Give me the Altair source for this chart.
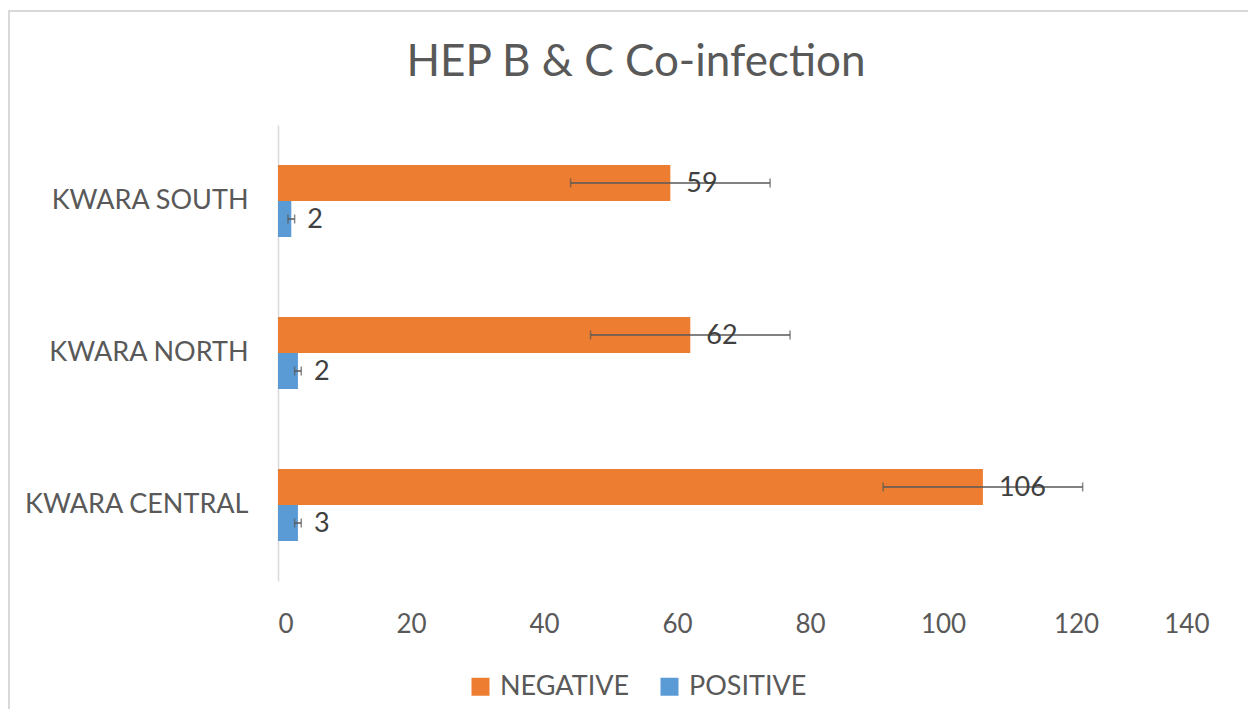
import altair as alt
import pandas as pd

title_text = "HEP B & C Co-infection"
regions = ["KWARA SOUTH", "KWARA NORTH", "KWARA CENTRAL"]
negative = [59, 62, 106]
positive = [2, 3, 3]
negative_labels = ["59", "62", "106"]
positive_labels = ["2", "2", "3"]
negative_err = [15, 15, 15]
positive_err = [0.5, 0.5, 0.5]
series = ["NEGATIVE", "POSITIVE"]
colors = ["#ED7D31", "#5B9BD5"]

rows = []
for i, r in enumerate(regions):
    rows.append(dict(region=r, series="NEGATIVE", value=negative[i],
                     label=negative_labels[i], lo=negative[i] - negative_err[i],
                     hi=negative[i] + negative_err[i]))
    rows.append(dict(region=r, series="POSITIVE", value=positive[i],
                     label=positive_labels[i], lo=positive[i] - positive_err[i],
                     hi=positive[i] + positive_err[i]))
df = pd.DataFrame(rows)

FONT = "Lato"
GREY = "#595959"

y_enc = alt.Y("region:N", sort=regions, title=None,
              scale=alt.Scale(paddingInner=0.526, paddingOuter=0.263),
              axis=alt.Axis(labelFontSize=27, labelColor=GREY, labelFont=FONT,
                            labelPadding=30, labelLimit=400, ticks=False,
                            domainColor="#d9d9d9", domainWidth=1.5,
                            labelFontWeight="normal"))
yoff = alt.YOffset("series:N", sort=series)
x_scale = alt.Scale(domain=[0, 140], nice=False)

base = alt.Chart(df)

bars = base.mark_bar().encode(
    x=alt.X("value:Q", scale=x_scale, title=None,
            axis=alt.Axis(values=[0, 20, 40, 60, 80, 100, 120, 140], grid=False,
                          domain=False, ticks=False, labelFontSize=26,
                          labelColor=GREY, labelFont=FONT, labelPadding=30)),
    y=y_enc,
    yOffset=yoff,
    color=alt.Color("series:N", sort=series,
                    scale=alt.Scale(domain=series, range=colors),
                    legend=alt.Legend(title=None, orient="none", direction="horizontal",
                                      legendX=189, legendY=548, symbolType="square",
                                      symbolSize=324, symbolStrokeWidth=0,
                                      labelFontSize=27, labelFont=FONT,
                                      labelColor=GREY, columnPadding=26,
                                      labelOffset=6)),
)

err = base.mark_rule(color=GREY, strokeWidth=1.5).encode(
    x=alt.X("lo:Q", scale=x_scale), x2="hi:Q", y=y_enc, yOffset=yoff)
cap_lo = base.mark_tick(color=GREY, thickness=1.5, size=9).encode(
    x=alt.X("lo:Q", scale=x_scale), y=y_enc, yOffset=yoff)
cap_hi = base.mark_tick(color=GREY, thickness=1.5, size=9).encode(
    x=alt.X("hi:Q", scale=x_scale), y=y_enc, yOffset=yoff)

labels = base.mark_text(align="left", baseline="middle", dx=16, dy=1,
                        fontSize=27, font=FONT, color="#404040").encode(
    x=alt.X("value:Q", scale=x_scale), y=y_enc, yOffset=yoff, text="label:N")

title = alt.Chart(pd.DataFrame({"t": [title_text]})).mark_text(
    fontSize=44, font=FONT, color=GREY, align="center", baseline="middle").encode(
    x=alt.value(358), y=alt.value(-62), text="t:N")

border = alt.Chart(pd.DataFrame({"a": [0]})).mark_rect(
    fill=None, stroke="#d9d9d9", strokeWidth=2).encode(
    x=alt.value(-269), x2=alt.value(1000), y=alt.value(-114), y2=alt.value(700))

chart = alt.layer(border, bars, err, cap_lo, cap_hi, labels, title).properties(
    width=931, height=456,
    background="white",
    autosize=alt.AutoSizeParams(type="none"),
    padding={"left": 270, "top": 117, "right": 39, "bottom": 128},
).configure_view(stroke=None)

chart.save("out.html", embed_options={"renderer": "svg", "actions": False})
